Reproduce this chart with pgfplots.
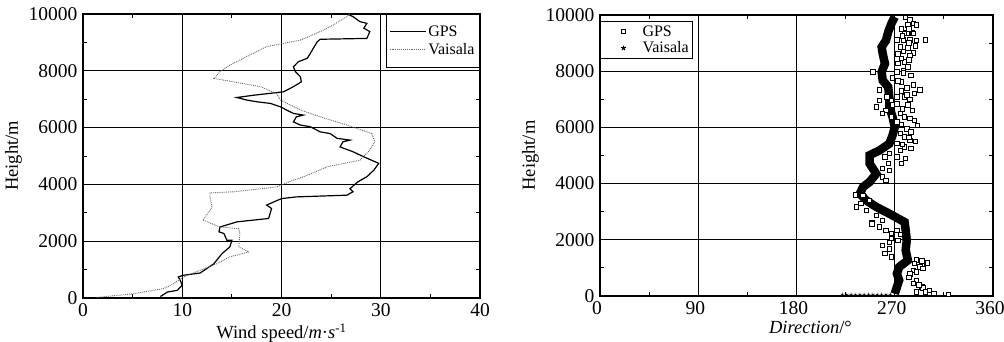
\documentclass[border=0pt]{standalone}
\usepackage{fontspec}
\setmainfont{Liberation Serif}
\usepackage{pgfplots}
\pgfplotsset{compat=1.18}
\usetikzlibrary{plotmarks}
\pgfplotsset{
  myaxis/.style={
    scale only axis, anchor=south west,
    ymin=0, ymax=10000,
    ytick={0,2000,...,10000}, minor ytick={1000,3000,...,9000},
    grid=major, major grid style={black, line width=1.0pt},
    axis line style={line width=1.2pt},
    major tick length=0pt, minor tick length=4pt,
    minor tick style={black, line width=0.8pt},
    scaled y ticks=false,
    /pgf/number format/assume math mode=true,
    /pgf/number format/set thousands separator={},
    every tick label/.append style={font=\fontsize{19.5}{22}\selectfont},
    xticklabel style={yshift=-2pt},
    yticklabel style={xshift=-2pt},
    label style={font=\fontsize{18.5}{21}\selectfont},
    ylabel={Height/m},
    legend style={font=\fontsize{16}{19}\selectfont, draw=black, line width=1pt},
    legend cell align=left,
  },
}
\begin{document}
\begin{tikzpicture}
\useasboundingbox (0,0) rectangle (1004pt,342pt);
\begin{axis}[myaxis,
  at={(83pt,44pt)}, width=397pt, height=284pt,
  xmin=0, xmax=40, xtick={0,10,...,40}, minor xtick={5,15,25,35},
  xlabel={Wind speed/\textit{m}·\textit{s}\textsuperscript{-1}},
  legend style={at={(1,1)}, anchor=north east, inner xsep=3pt, inner ysep=9pt, row sep=2pt},
  legend image code/.code={\draw[#1] (0pt,0pt) -- (36pt,0pt);},
  legend entries={GPS\hspace{13pt}, Vaisala},
]
\addplot[black, line width=1.2pt] coordinates {
(7.8,50) (8.5,210) (9.5,270) (10.0,450) (9.8,620) (9.6,740) (10.1,800) (11.8,880)
(13.2,1210) (14.0,1560) (14.8,1800) (15.0,2030) (14.5,2030) (14.2,2270) (13.7,2330)
(13.8,2500) (15.5,2680) (18.7,2800) (19.0,3150) (18.5,3270) (19.2,3380) (20.0,3500)
(21.5,3560) (26.6,3620) (27.2,3740) (26.9,3850) (27.7,4090) (28.6,4270) (29.3,4500)
(29.8,4740) (28.3,4970) (27.2,5150) (25.9,5320) (26.2,5500) (26.9,5560) (25.6,5620)
(24.9,5790) (23.9,5850) (22.9,6030) (21.9,6090) (21.2,6200) (21.5,6380) (22.2,6440)
(21.2,6500) (20.5,6620) (19.9,6730) (18.9,6850) (17.5,6910) (16.5,6970) (15.5,7060)
(17.2,7140) (20.2,7260) (21.2,7440) (22.0,7610) (21.9,7790) (21.4,7970) (21.2,8140)
(21.7,8320) (22.6,8440) (22.9,8610) (23.2,8790) (23.6,9020) (23.9,9110) (28.6,9140)
(28.9,9380) (28.3,9500) (28.6,9670) (27.9,9730) (27.2,9910) (26.6,10000)
};
\addplot[black!60, densely dotted, line width=0.9pt] coordinates {
(1.4,20) (5.1,150) (8.1,330) (9.1,500) (10.1,740) (11.8,975) (13.5,1210) (14.8,1450)
(16.7,1620) (15.7,1800) (15.8,2270) (15.7,2440) (13.8,2500) (12.1,2740) (13.0,3200)
(12.8,3560) (12.8,3700) (15.2,3740) (19.5,3910) (21.2,4150) (22.6,4320) (24.6,4620)
(27.9,4850) (28.9,5210) (29.4,5500) (29.1,5790) (26.6,6090) (23.9,6380) (21.9,6620)
(19.9,6970) (19.5,7200) (17.9,7440) (15.2,7610) (13.2,7730) (13.8,7970) (14.8,8200)
(16.5,8500) (18.5,8850) (21.9,9080) (23.9,9380) (25.2,9610) (26.6,9910) (26.9,10000)
};
\end{axis}
\begin{axis}[myaxis,
  at={(600pt,46pt)}, width=393pt, height=281pt,
  xmin=0, xmax=360, xtick={0,90,...,360}, minor xtick={45,135,225,315},
  xticklabel style={xshift=-3pt},
  xlabel={\textit{Direction}/°},
  xlabel style={xshift=14pt},
  legend style={at={(0,0.978)}, anchor=north west, inner xsep=2pt, inner ysep=2pt},
  legend image code/.code={\draw[#1] plot coordinates {(21pt,0pt)}; \path (0pt,0pt) -- (38pt,0pt);},
]
% Vaisala band
\addplot[black, line width=8.5pt, forget plot] coordinates {
(270,80) (271,200) (274,560) (272,800) (274,1030) (282,1270) (280,1630) (281,1980)
(280,2340) (279,2630) (265,2930) (253,3170) (244,3400) (238,3640) (241,3880) (247,4060)
(253,4350) (247,4710) (247,5010) (256,5180) (265,5420) (268,5720) (270,6010) (268,6370)
(265,6730) (265,7080) (264,7440) (259,7670) (258,7970) (261,8270) (259,8620) (258,8860)
(262,9100) (264,9400) (267,9700) (270,9930)
};
\addplot[black, draw=none, mark=star, mark size=2pt, mark options={draw=black}, forget plot] coordinates {
(222,50) (226,50) (230,50) (234,50) (238,50) (242,50) (246,50) (250,50) (254,50)
(258,50) (262,50) (266,50)
};
\addplot[draw=none, mark=square*, mark options={draw=black, fill=white, line width=0.9pt}, mark size=2.2pt] coordinates {
(280,9920) (284,9820) (287,9690) (290,9640) (282,9640) (281,9360) (286,9360) (279,9340)
(287,9340) (272,9110) (278,9110) (284,9110) (290,9100) (298,9110) (275,8860) (282,8830)
(287,8650) (273,8620) (284,8560) (279,8330) (273,8270) (278,8030) (250,7970) (272,7970)
(278,7940) (268,7760) (276,7620) (287,7510) (281,7410) (293,7330) (288,7200) (256,7330)
(263,7080) (272,7080) (279,7080) (281,7150) (256,6960) (267,6960) (272,6840) (253,6730)
(268,6800) (282,6800) (262,6610) (259,6490) (275,6490) (267,6370) (279,6370) (284,6310)
(272,6190) (291,6070) (281,5950) (285,5840) (275,5780) (279,5660) (284,5540) (272,5420)
(279,5300) (275,5180) (265,5070) (272,4950) (261,4950) (276,4710) (264,4710) (259,4530)
(265,4470) (259,4230) (262,4120) (241,3580) (234,3590) (247,3400) (235,3170) (244,3050)
(253,2870) (259,2690) (249,2600) (249,2570) (256,2460) (262,2340) (272,2340) (267,2220)
(267,2040) (273,1980) (259,1800) (265,1680) (261,1510) (267,1390) (290,1280) (288,1150)
(299,1150) (300,1170) (293,1030) (296,970) (287,910) (284,790) (290,560) (287,440)
(295,320) (296,285) (302,200) (306,80) (290,140) (319,60)
(276,9500) (283,9500) (277,9250) (283,9000) (289,8900) (278,8700)
(283,8400) (276,8450) (282,8150) (285,7850) (273,7650)
(276,7300) (284,7000) (277,6650) (286,6600) (288,6250) (276,6100)
(283,5650) (289,5500) (277,5400) (285,5250) (280,4900)
(239,3300) (275,2200) (265,1900) (295,1250) (290,850) (283,650)
(292,400) (298,150)
};
\addlegendentry{GPS\hspace{12pt}}
\addlegendimage{draw=none, mark=star, mark size=2.5pt, mark options={draw=black, line width=1pt}}
\addlegendentry{Vaisala}
\end{axis}
\end{tikzpicture}
\end{document}
